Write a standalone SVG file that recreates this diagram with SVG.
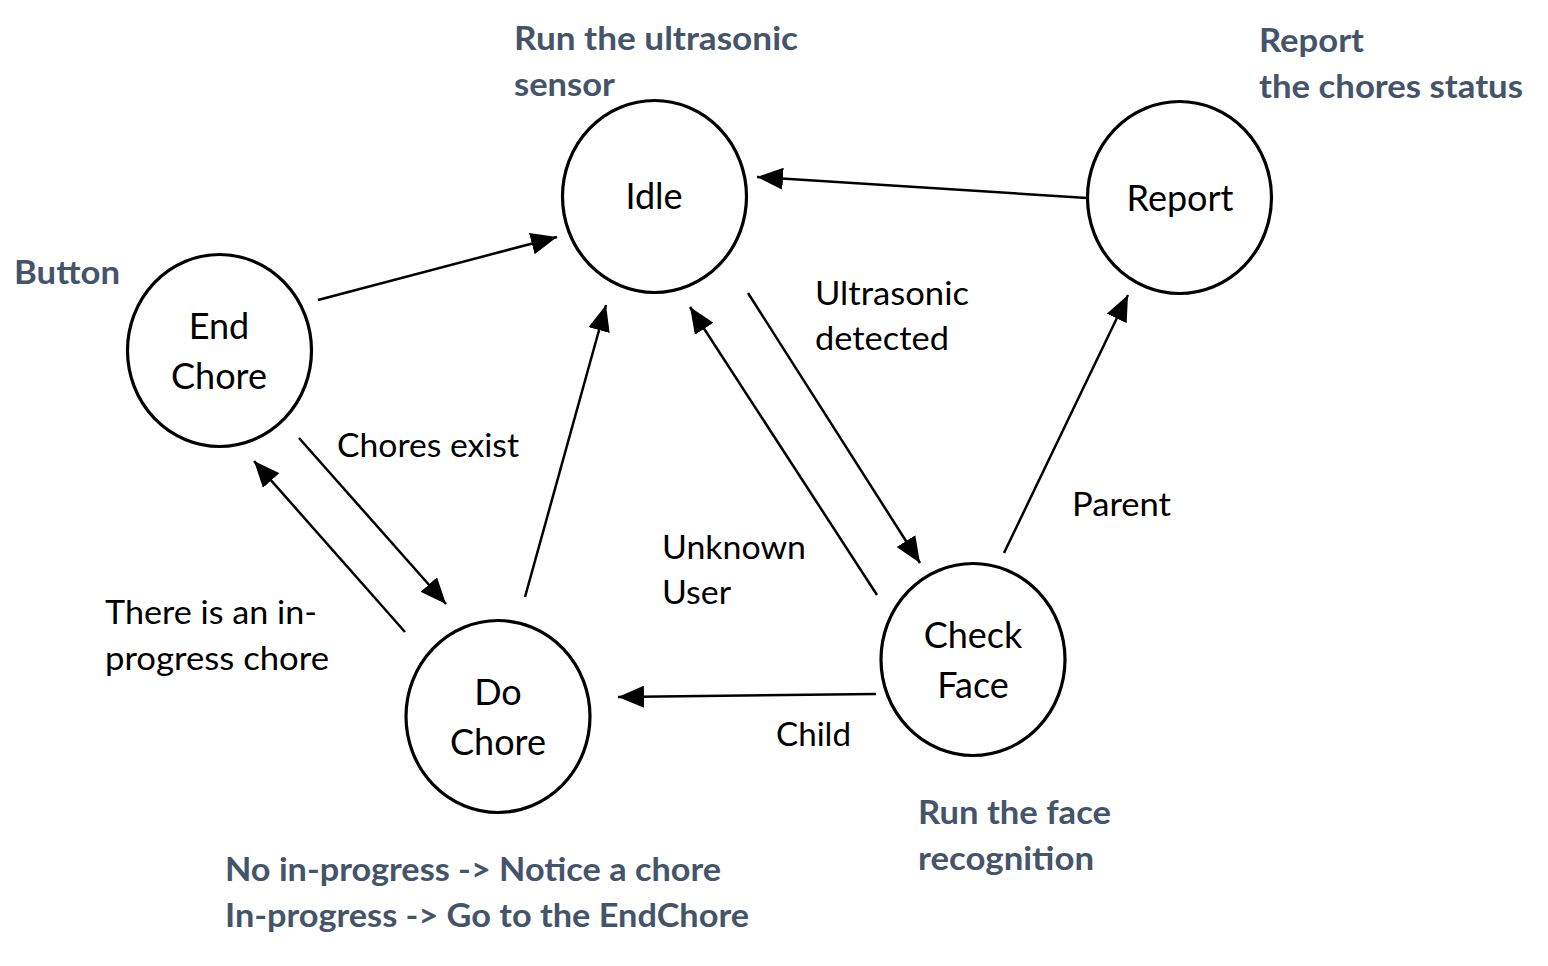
<svg xmlns="http://www.w3.org/2000/svg" width="1548" height="966" viewBox="0 0 1548 966">
<defs>
<marker id="ah" viewBox="0 0 26 22" refX="26" refY="11" markerWidth="26" markerHeight="22" markerUnits="userSpaceOnUse" orient="auto">
<path d="M0,0 L26,11 L0,22 Z" fill="#000"/>
</marker>
<style>
.node{fill:#fff;stroke:#000;stroke-width:3.2}
.nl{font-family:Lato,"Liberation Sans",sans-serif;font-size:36px;fill:#000;text-anchor:middle}
.lb{font-family:Lato,"Liberation Sans",sans-serif;font-size:32px;fill:#000}
.note{font-family:Lato,"Liberation Sans",sans-serif;font-size:32px;font-weight:bold;fill:#44546A}
.edge{stroke:#000;stroke-width:2.5;fill:none;marker-end:url(#ah)}
</style>
</defs>
<rect width="1548" height="966" fill="#fff"/>
<g id="connectors">
<line class="edge" x1="318" y1="300" x2="557" y2="237"/>
<line class="edge" x1="1087" y1="198" x2="757" y2="177"/>
<line class="edge" x1="525" y1="597" x2="606" y2="305"/>
<line class="edge" x1="748" y1="293" x2="920" y2="563"/>
<line class="edge" x1="877" y1="595" x2="690" y2="307"/>
<line class="edge" x1="1004" y1="553" x2="1128" y2="295"/>
<line class="edge" x1="876" y1="694" x2="618" y2="697"/>
<line class="edge" x1="299" y1="438" x2="446" y2="604"/>
<line class="edge" x1="405" y1="632" x2="254" y2="461"/>
</g>
<g id="idle">
<ellipse class="node" cx="654.5" cy="196.5" rx="92" ry="96"/>
<text class="nl" x="654" y="209">Idle</text>
</g>
<g id="report">
<ellipse class="node" cx="1179.5" cy="197.5" rx="92" ry="96"/>
<text class="nl" x="1180" y="211">Report</text>
</g>
<g id="endchore">
<ellipse class="node" cx="219.5" cy="350.5" rx="92" ry="96"/>
<text class="nl" x="219" y="339">End</text>
<text class="nl" x="219" y="389">Chore</text>
</g>
<g id="dochore">
<ellipse class="node" cx="498" cy="716.5" rx="92" ry="96"/>
<text class="nl" x="498" y="705">Do</text>
<text class="nl" x="498" y="755">Chore</text>
</g>
<g id="checkface">
<ellipse class="node" cx="973" cy="659.5" rx="92" ry="96"/>
<text class="nl" x="973" y="648">Check</text>
<text class="nl" x="973" y="698">Face</text>
</g>
<g id="labels">
<text class="lb" x="337" y="457" textLength="182" lengthAdjust="spacingAndGlyphs">Chores exist</text>
<text class="lb" x="815" y="305" textLength="154" lengthAdjust="spacingAndGlyphs">Ultrasonic</text>
<text class="lb" x="815" y="350" textLength="134" lengthAdjust="spacingAndGlyphs">detected</text>
<text class="lb" x="1072" y="516" textLength="99" lengthAdjust="spacingAndGlyphs">Parent</text>
<text class="lb" x="662" y="559" textLength="144" lengthAdjust="spacingAndGlyphs">Unknown</text>
<text class="lb" x="662" y="604" textLength="69" lengthAdjust="spacingAndGlyphs">User</text>
<text class="lb" x="105" y="624" textLength="212" lengthAdjust="spacingAndGlyphs">There is an in-</text>
<text class="lb" x="105" y="670" textLength="224" lengthAdjust="spacingAndGlyphs">progress chore</text>
<text class="lb" x="776" y="746" textLength="75" lengthAdjust="spacingAndGlyphs">Child</text>
</g>
<g id="notes">
<text class="note" x="514" y="50" textLength="284" lengthAdjust="spacingAndGlyphs">Run the ultrasonic</text>
<text class="note" x="514" y="96" textLength="101" lengthAdjust="spacingAndGlyphs">sensor</text>
<text class="note" x="1259" y="52" textLength="105" lengthAdjust="spacingAndGlyphs">Report</text>
<text class="note" x="1259" y="98" textLength="264" lengthAdjust="spacingAndGlyphs">the chores status</text>
<text class="note" x="14" y="284" textLength="106" lengthAdjust="spacingAndGlyphs">Button</text>
<text class="note" x="918" y="824" textLength="193" lengthAdjust="spacingAndGlyphs">Run the face</text>
<text class="note" x="918" y="870" textLength="176" lengthAdjust="spacingAndGlyphs">recognition</text>
<text class="note" x="225" y="881" textLength="496" lengthAdjust="spacingAndGlyphs">No in-progress -&gt; Notice a chore</text>
<text class="note" x="225" y="927" textLength="524" lengthAdjust="spacingAndGlyphs">In-progress -&gt; Go to the EndChore</text>
</g>
</svg>
